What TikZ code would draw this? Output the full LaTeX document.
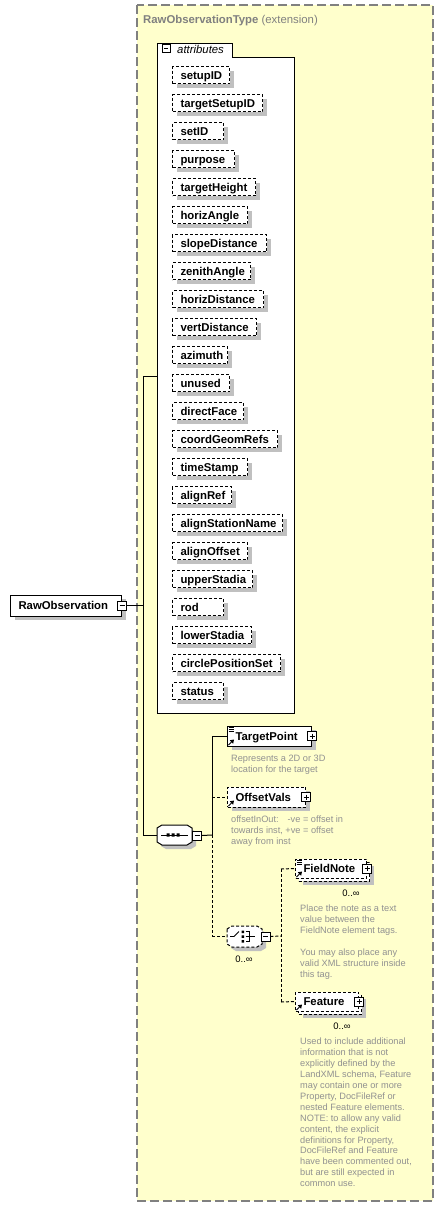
\documentclass[tikz,border=0pt]{standalone}
\usepackage{fontspec}
\setmainfont{Liberation Sans}
\usetikzlibrary{shadows}
\definecolor{bgyellow}{RGB}{255,255,204}
\definecolor{shadowgray}{RGB}{192,192,192}
\definecolor{txtgray}{RGB}{128,128,128}
\definecolor{descgray}{RGB}{145,145,145}
\definecolor{bordergray}{RGB}{128,128,128}
\newcommand\mainfont{\fontsize{11.4}{13}\selectfont}
\newcommand\docicon[1]{\begin{scope}[shift={(#1.north west)}]
  \fill[white] (1,1) rectangle (7,7);
  \draw[line width=0.7bp] (1.5,2)--(6.5,2) (1.5,4)--(6.5,4) (1.5,6)--(6.5,6);
\end{scope}}
\newcommand\reficon[1]{\begin{scope}[shift={(#1.south west)}]
  \draw[line width=0.9bp] (1.5,-1.5)--(4.5,-4.5);
  \fill (7,-7)--(2.8,-6.2)--(6.2,-2.8)--cycle;
\end{scope}}
\tikzset{
  conn/.style={line width=1bp, black},
  opt/.style={conn, dash pattern=on 3bp off 2bp},
  shadowed/.style={drop shadow={shadow xshift=4bp, shadow yshift=-4bp, fill=shadowgray, opacity=1}},
  attrbox/.style={draw, line width=1bp, dash pattern=on 3bp off 2bp, fill=white, shadowed,
    anchor=west, minimum height=17bp, inner xsep=8bp, inner ysep=0pt,
    text height=9bp, text depth=0.8bp, font=\mainfont\bfseries},
  elembox/.style={draw, line width=1bp, fill=white, anchor=west, inner xsep=8bp, inner ysep=0pt,
    text height=9bp, text depth=0.8bp, font=\mainfont\bfseries},
  optbox/.style={dash pattern=on 3bp off 2bp},
  btn/.style={draw, line width=0.8bp, fill=white, minimum size=9bp, inner sep=0pt},
  minusbtn/.style={btn, path picture={\draw[line width=0.8bp]
     ([xshift=2bp]path picture bounding box.west) -- ([xshift=-2bp]path picture bounding box.east);}},
  plusbtn/.style={btn, path picture={\draw[line width=0.8bp]
     ([xshift=2bp]path picture bounding box.west) -- ([xshift=-2bp]path picture bounding box.east)
     ([yshift=-2bp]path picture bounding box.north) -- ([yshift=2bp]path picture bounding box.south);}},
  desc/.style={anchor=north west, inner sep=0pt, align=left, text=descgray,
    font=\fontsize{9.25}{11}\selectfont},
  card/.style={inner sep=0pt, font=\fontsize{9.5}{11}\selectfont}
}
\begin{document}
\begin{tikzpicture}[x=1bp,y=-1bp]
\fill[white] (0,0) rectangle (444,1207);
\useasboundingbox (0,0) rectangle (444,1207);

% complex type frame
\draw[draw=bordergray, line width=1.2bp, dash pattern=on 9bp off 4bp, fill=bgyellow] (137,5) rectangle (433,1201);
\node[anchor=base west, inner sep=0pt, text=txtgray, font=\mainfont] (title) at (143,23)
  {\textbf{RawObservationType} (extension)};

% junction coordinates
\coordinate (j0) at (143,376);
\coordinate (j1) at (143,605.5);
\coordinate (j2) at (143,835);
\coordinate (attrsW) at (157,376);
\coordinate (seqW) at (157,835);
\coordinate (k0) at (212,736);
\coordinate (k1) at (212,797);
\coordinate (k2) at (212,835);
\coordinate (k3) at (212,936);
\coordinate (choW) at (227,936);
\coordinate (m0) at (281,869);
\coordinate (m1) at (281,936);
\coordinate (m2) at (281,1002);

% attributes group
\draw[conn, fill=white] (157,713) -- (157,43) -- (232,43) -- (232,57) -- (294,57) -- (294,713) -- cycle;
\node[minusbtn, minimum size=8bp] (attrbtn) at (166,48.5) {};
\node[anchor=base west, inner sep=0pt, font=\mainfont\itshape] (attrlbl) at (177,53) {attributes};

\foreach \t/\r [count=\i] in {setupID/229, targetSetupID/262, setID/223, purpose/234,
  targetHeight/255, horizAngle/247, slopeDistance/266, zenithAngle/250, horizDistance/263,
  vertDistance/256, azimuth/227, unused/229, directFace/243, coordGeomRefs/277, timeStamp/247,
  alignRef/231, alignStationName/282, alignOffset/247, upperStadia/252, rod/223,
  lowerStadia/251, circlePositionSet/280, status/223} {
  \pgfmathsetmacro\w{\r-188}
  \node[attrbox] (a\i) at (172,{47+28*\i}) {\makebox[\w bp][l]{\t}};
}

% connectors
\draw[conn] (j0) -- (j2);
\draw[conn] (j0) -- (attrsW);
\draw[conn] (j2) -- (seqW);
\draw[conn] (k0) -- (k2);
\draw[opt] (k2) -- (k3);
\draw[opt] (m0) -- (m2);

% root element
\node[elembox, shadowed, minimum height=21bp] (ro) at (10,605.5) {\makebox[95bp][l]{RawObservation}};
\node[minusbtn] (robtn) at (ro.east) {};
\draw[conn] (robtn.east) -- (j1);

% sequence compositor
\begin{scope}[shift={(4,4)}]
\fill[shadowgray] (157,828)--(162,825)--(187,825)--(192,828)--(192,842)--(187,845)--(162,845)--(157,842)--cycle;
\end{scope}
\draw[conn, fill=white] (157,828)--(162,825)--(187,825)--(192,828)--(192,842)--(187,845)--(162,845)--(157,842)--cycle;
\draw[line width=0.9bp] (161,835)--(188,835);
\fill (166.5,833.3) rectangle (169.5,836.7) (171.5,833.3) rectangle (174.5,836.7) (176.5,833.3) rectangle (179.5,836.7);
\node[minusbtn] (seqbtn) at (197,835.5) {};
\draw[conn] (seqbtn.east) -- (k2);

% TargetPoint
\node[elembox, shadowed, minimum height=20bp] (tp) at (227,736) {\makebox[68bp][l]{TargetPoint}};
\docicon{tp}\reficon{tp}
\node[plusbtn] (tpbtn) at (tp.east) {};
\draw[conn] (k0) -- (tp.west);
\node[desc] (tpdesc) at (231,754.5) {Represents a 2D or 3D\\location for the target};

% OffsetVals
\node[elembox, optbox, shadowed, minimum height=20bp] (ov) at (227,797) {\makebox[62bp][l]{OffsetVals}};
\reficon{ov}
\node[plusbtn] (ovbtn) at (ov.east) {};
\draw[opt] (k1) -- (ov.west);
\node[desc] (ovdesc) at (231,815.5) {offsetInOut:\hspace{9bp}-ve = offset in\\towards inst, +ve = offset\\away from inst};

% choice compositor
\begin{scope}[shift={(4,4)}]
\fill[shadowgray] (227,929)--(232,926)--(257,926)--(262,929)--(262,944)--(257,947)--(232,947)--(227,944)--cycle;
\end{scope}
\draw[opt, fill=white] (227,929)--(232,926)--(257,926)--(262,929)--(262,944)--(257,947)--(232,947)--(227,944)--cycle;
\draw[line width=0.9bp] (230,936.5)--(234,936.5)--(239,931.5);
\fill (241.5,930.5) rectangle (244,933) (241.5,935.3) rectangle (244,937.8) (241.5,940) rectangle (244,942.5);
\draw[line width=0.9bp] (245.5,931.5)--(249,931.5)--(249,941.5)--(245.5,941.5) (245.5,936.5)--(255,936.5);
\node[minusbtn] (chobtn) at (265.5,936.5) {};
\draw[opt] (k3) -- (choW);
\draw[opt] (chobtn.east) -- (m1);
\node[card] (chocard) at (244,959) {0..∞};

% FieldNote
\node[elembox, optbox, shadowed, minimum width=71bp, minimum height=19bp] (fnback) at (298,871.5) {};
\node[elembox, optbox, minimum height=19bp] (fn) at (295,868.5) {\makebox[55bp][l]{FieldNote}};
\docicon{fn}\reficon{fn}
\node[plusbtn] (fnbtn) at (fn.east) {};
\draw[opt] (m0) -- (fn.west);
\node[card] (fncard) at (351,893) {0..∞};
\node[desc] (fndesc) at (300,904.5) {Place the note as a text\\value between the\\FieldNote element tags.\\[11bp]You may also place any\\valid XML structure inside\\this tag.};

% Feature
\node[elembox, optbox, shadowed, minimum width=63bp, minimum height=19bp] (ftback) at (298,1004.5) {};
\node[elembox, optbox, minimum height=19bp] (ft) at (295,1001.5) {\makebox[47bp][l]{Feature}};
\reficon{ft}
\node[plusbtn] (ftbtn) at (ft.east) {};
\draw[opt] (m2) -- (ft.west);
\node[card] (ftcard) at (342,1026) {0..∞};
\node[desc] (ftdesc) at (300,1037.5) {Used to include additional\\information that is not\\explicitly defined by the\\LandXML schema, Feature\\may contain one or more\\Property, DocFileRef or\\nested Feature elements.\\NOTE: to allow any valid\\content, the explicit\\definitions for Property,\\DocFileRef and Feature\\have been commented out,\\but are still expected in\\common use.};
\end{tikzpicture}
\end{document}
